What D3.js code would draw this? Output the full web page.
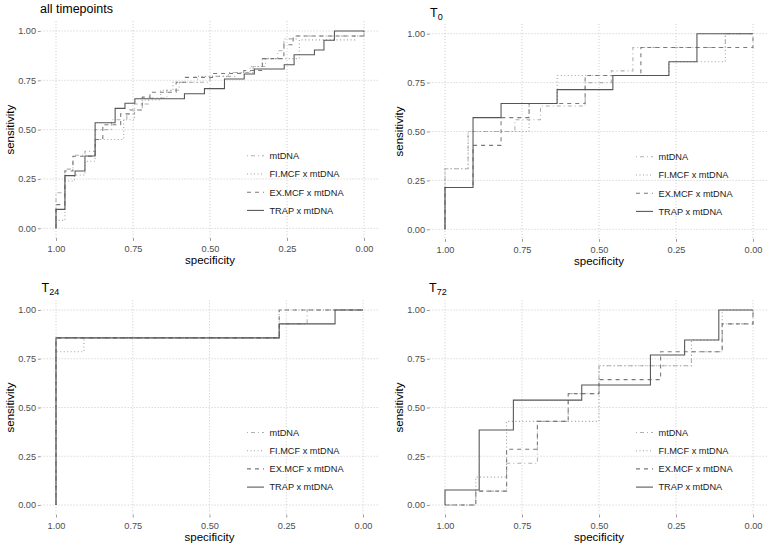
<!DOCTYPE html>
<html>
<head>
<meta charset="utf-8">
<script src="https://cdn.jsdelivr.net/npm/d3@7"></script>
<style>
html,body{margin:0;padding:0;background:#fff;}
svg{display:block;font-family:"Liberation Sans",Arial,sans-serif;}
</style>
</head>
<body>
<svg id="chart" width="774" height="549"></svg>
<script>
// ---------- DATA ----------
const seriesNames = ["mtDNA", "FI.MCF x mtDNA", "EX.MCF x mtDNA", "TRAP x mtDNA"];
const tickValues = [1, 0.75, 0.5, 0.25, 0];
const panelTitles = [["all timepoints", ""], ["T", "0"], ["T", "24"], ["T", "72"]];

// vertices [specificity, sensitivity] of each ROC step curve
const all_mtDNA = [[1,0],[1,0.18],[0.971,0.18],[0.971,0.3],[0.945,0.3],[0.945,0.37],[0.906,0.37],[0.906,0.39],[0.873,0.39],[0.873,0.5],[0.82,0.5],[0.82,0.55],[0.77,0.55],[0.77,0.58],[0.745,0.58],[0.745,0.63],[0.7,0.63],[0.7,0.66],[0.64,0.66],[0.64,0.7],[0.6,0.7],[0.6,0.74],[0.5,0.74],[0.5,0.77],[0.42,0.77],[0.42,0.79],[0.36,0.79],[0.36,0.82],[0.32,0.82],[0.32,0.86],[0.28,0.86],[0.28,0.9],[0.26,0.9],[0.26,0.96],[0.22,0.96],[0.22,0.975],[0,0.975],[0,1]];
const all_FIMCF = [[1,0],[1,0.04],[0.971,0.04],[0.971,0.24],[0.94,0.24],[0.94,0.27],[0.906,0.27],[0.906,0.34],[0.873,0.34],[0.873,0.45],[0.78,0.45],[0.78,0.55],[0.745,0.55],[0.745,0.6],[0.72,0.6],[0.72,0.65],[0.66,0.65],[0.66,0.7],[0.62,0.7],[0.62,0.74],[0.54,0.74],[0.54,0.77],[0.44,0.77],[0.44,0.79],[0.37,0.79],[0.37,0.82],[0.33,0.82],[0.33,0.86],[0.21,0.86],[0.21,0.955],[0.03,0.955],[0.03,0.975],[0,0.975],[0,1]];
const all_EXMCF = [[1,0],[1,0.12],[0.971,0.12],[0.971,0.29],[0.945,0.29],[0.945,0.365],[0.873,0.365],[0.873,0.45],[0.848,0.45],[0.848,0.525],[0.79,0.525],[0.79,0.58],[0.76,0.58],[0.76,0.6],[0.72,0.6],[0.72,0.665],[0.695,0.665],[0.695,0.69],[0.61,0.69],[0.61,0.74],[0.58,0.74],[0.58,0.765],[0.49,0.765],[0.49,0.785],[0.39,0.785],[0.39,0.8],[0.33,0.8],[0.33,0.86],[0.26,0.86],[0.26,0.93],[0.23,0.93],[0.23,0.975],[0,0.975],[0,1]];
const all_TRAP = [[1,0],[1,0.096],[0.971,0.096],[0.971,0.267],[0.938,0.267],[0.938,0.29],[0.906,0.29],[0.906,0.366],[0.873,0.366],[0.873,0.535],[0.808,0.535],[0.808,0.608],[0.776,0.608],[0.776,0.634],[0.744,0.634],[0.744,0.657],[0.583,0.657],[0.583,0.682],[0.518,0.682],[0.518,0.708],[0.453,0.708],[0.453,0.757],[0.389,0.757],[0.389,0.782],[0.356,0.782],[0.356,0.807],[0.259,0.807],[0.259,0.829],[0.227,0.829],[0.227,0.88],[0.161,0.88],[0.161,0.904],[0.13,0.904],[0.13,0.953],[0.096,0.953],[0.096,1],[0,1]];

const t0_mtDNA = [[1,0],[1,0.31],[0.925,0.31],[0.925,0.5],[0.773,0.5],[0.773,0.56],[0.69,0.56],[0.69,0.63],[0.545,0.63],[0.545,0.75],[0.46,0.75],[0.46,0.81],[0.39,0.81],[0.39,0.929],[0.09,0.929],[0.09,1],[0,1]];
const t0_FIMCF = [[1,0],[1,0.31],[0.925,0.31],[0.925,0.5],[0.727,0.5],[0.727,0.643],[0.636,0.643],[0.636,0.786],[0.273,0.786],[0.273,0.857],[0.09,0.857],[0.09,1],[0,1]];
const t0_EXMCF = [[1,0],[1,0.214],[0.909,0.214],[0.909,0.429],[0.818,0.429],[0.818,0.571],[0.727,0.571],[0.727,0.643],[0.545,0.643],[0.545,0.786],[0.364,0.786],[0.364,0.929],[0,0.929],[0,1]];
const t0_TRAP = [[1,0],[1,0.214],[0.909,0.214],[0.909,0.571],[0.818,0.571],[0.818,0.643],[0.636,0.643],[0.636,0.714],[0.455,0.714],[0.455,0.786],[0.273,0.786],[0.273,0.857],[0.182,0.857],[0.182,1],[0,1]];

const t24_mtDNA = [[1,0],[1,0.857],[0.273,0.857],[0.273,0.929],[0.182,0.929],[0.182,1],[0,1]];
const t24_FIMCF = [[1,0],[1,0.786],[0.909,0.786],[0.909,0.857],[0.273,0.857],[0.273,1],[0,1]];
const t24_EXMCF = [[1,0],[1,0.857],[0.273,0.857],[0.273,1],[0,1]];
const t24_TRAP = [[1,0],[1,0.857],[0.273,0.857],[0.273,0.929],[0.091,0.929],[0.091,1],[0,1]];

const t72_mtDNA = [[1,0],[0.9,0],[0.9,0.071],[0.8,0.071],[0.8,0.214],[0.7,0.214],[0.7,0.429],[0.6,0.429],[0.6,0.571],[0.5,0.571],[0.5,0.714],[0.2,0.714],[0.2,0.786],[0.1,0.786],[0.1,0.929],[0,0.929],[0,1]];
const t72_FIMCF = [[1,0],[0.9,0],[0.9,0.143],[0.8,0.143],[0.8,0.429],[0.5,0.429],[0.5,0.714],[0.2,0.714],[0.2,0.846],[0.1,0.846],[0.1,1],[0,1]];
const t72_EXMCF = [[1,0],[0.9,0],[0.9,0.071],[0.8,0.071],[0.8,0.286],[0.7,0.286],[0.7,0.429],[0.6,0.429],[0.6,0.571],[0.5,0.571],[0.5,0.643],[0.3,0.643],[0.3,0.786],[0.1,0.786],[0.1,0.929],[0,0.929],[0,1]];
const t72_TRAP = [[1,0],[1,0.077],[0.889,0.077],[0.889,0.385],[0.778,0.385],[0.778,0.538],[0.556,0.538],[0.556,0.615],[0.333,0.615],[0.333,0.769],[0.222,0.769],[0.222,0.846],[0.111,0.846],[0.111,1],[0,1]];

const panelData = [
  [all_mtDNA, all_FIMCF, all_EXMCF, all_TRAP],
  [t0_mtDNA, t0_FIMCF, t0_EXMCF, t0_TRAP],
  [t24_mtDNA, t24_FIMCF, t24_EXMCF, t24_TRAP],
  [t72_mtDNA, t72_FIMCF, t72_EXMCF, t72_TRAP]
];

// ---------- STYLE / LAYOUT ----------
const lineColors = ["#b0b0b0", "#a0a0a0", "#7a7a7a", "#555555"];
const lineDash = ["1,3,4,3", "1,2.5", "4,4", null];
// pixel positions of data value 1 and 0 on each axis
const panels = [
  {x1: 56, x0: 364, y1: 31, y0: 228.3, tx: 40, ty: 13},
  {x1: 445, x0: 753, y1: 33.7, y0: 229.3, tx: 430, ty: 16.7},
  {x1: 56, x0: 363, y1: 310, y0: 505, tx: 41.5, ty: 291.7},
  {x1: 445, x0: 753, y1: 310, y0: 505, tx: 429, ty: 291.7}
];

const svg = d3.select("#chart");
const fmt = d3.format(".2f");

panels.forEach((p, i) => {
  const x = d3.scaleLinear().domain([1, 0]).range([p.x1, p.x0]);
  const y = d3.scaleLinear().domain([0, 1]).range([p.y0, p.y1]);
  const ex = (p.x0 - p.x1) * 0.05, ey = (p.y0 - p.y1) * 0.05;
  const left = p.x1 - ex, right = p.x0 + ex, top = p.y1 - ey, bottom = p.y0 + ey;
  const g = svg.append("g");

  // grid
  const grid = g.append("g").attr("stroke", "#c4c4c4").attr("stroke-width", 0.9).attr("stroke-dasharray", "1,2");
  tickValues.forEach(t => {
    grid.append("line").attr("x1", x(t)).attr("x2", x(t)).attr("y1", top).attr("y2", bottom);
    grid.append("line").attr("x1", left).attr("x2", right).attr("y1", y(t)).attr("y2", y(t));
  });

  // axes
  const xa = g.append("g").attr("transform", `translate(0,${bottom})`)
    .call(d3.axisBottom(x).tickValues(tickValues).tickFormat(fmt).tickSize(2.75).tickPadding(4.5));
  const ya = g.append("g").attr("transform", `translate(${left},0)`)
    .call(d3.axisLeft(y).tickValues(tickValues).tickFormat(fmt).tickSize(2.75).tickPadding(1.8));
  [xa, ya].forEach(a => {
    a.select(".domain").remove();
    a.selectAll("line").attr("stroke", "#9a9a9a");
    a.selectAll("text").attr("fill", "#4d4d4d").style("font-size", "9.2px").style("font-family", "'Liberation Sans',Arial,sans-serif");
  });

  // axis titles
  g.append("text").attr("x", (left + right) / 2).attr("y", bottom + 26)
    .attr("text-anchor", "middle").style("font-size", "11.5px").attr("fill", "#000").text("specificity");
  g.append("text").attr("transform", `translate(${p.x1 - 42},${(top + bottom) / 2}) rotate(-90)`)
    .attr("text-anchor", "middle").style("font-size", "11.5px").attr("fill", "#000").text("sensitivity");

  // title
  const tt = g.append("text").attr("x", p.tx).attr("y", p.ty).style("font-size", "12.5px").attr("fill", "#000");
  tt.append("tspan").text(panelTitles[i][0]);
  if (panelTitles[i][1]) tt.append("tspan").attr("dy", 3.5).style("font-size", "9px").text(panelTitles[i][1]);

  // curves
  const line = d3.line().x(d => x(d[0])).y(d => y(d[1]));
  panelData[i].forEach((pts, k) => {
    g.append("path").datum(pts).attr("d", line).attr("fill", "none")
      .attr("stroke", lineColors[k]).attr("stroke-width", 1.07)
      .attr("stroke-dasharray", lineDash[k]);
  });

  // legend
  const lg = g.append("g");
  seriesNames.forEach((name, k) => {
    const ry = p.y0 - 72.5 + k * 18.2;
    lg.append("line").attr("x1", p.x1 + 191).attr("x2", p.x1 + 208).attr("y1", ry).attr("y2", ry)
      .attr("stroke", lineColors[k]).attr("stroke-width", 1.07).attr("stroke-dasharray", lineDash[k]);
    lg.append("text").attr("x", p.x1 + 213.5).attr("y", ry + 3.3).style("font-size", "9.2px").attr("fill", "#1a1a1a").text(name);
  });
});
</script>
</body>
</html>
